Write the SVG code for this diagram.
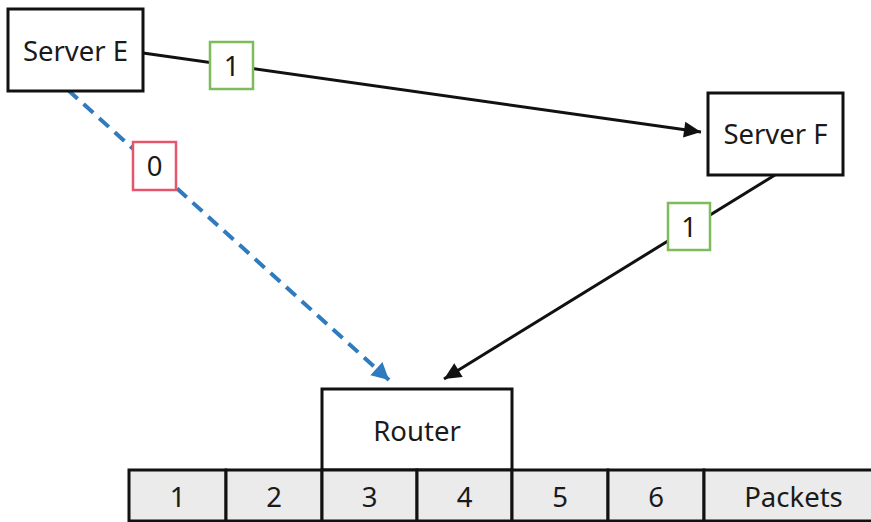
<svg xmlns="http://www.w3.org/2000/svg" width="871" height="522" viewBox="0 0 871 522">
<style>
text{font-family:"Noto Sans","Open Sans","DejaVu Sans",sans-serif;font-size:27.5px;fill:#1a1a1a;text-anchor:middle}
.node{fill:#fff;stroke:#111;stroke-width:3}
.cell{fill:#ebebeb;stroke:#111;stroke-width:3}
.edge{fill:none;stroke:#111;stroke-width:3}
.dash{fill:none;stroke:#2f7bbd;stroke-width:4;stroke-dasharray:13 8}
.lg{fill:#fff;stroke:#7dbb5c;stroke-width:2.5}
.lr{fill:#fff;stroke:#e5566c;stroke-width:2.5}
</style>
<defs>
<marker id="ab" markerUnits="userSpaceOnUse" markerWidth="22" markerHeight="22" viewBox="0 0 22 22" refX="20" refY="11" orient="auto">
<path d="M3,3 L20,11 L3,19 Z" fill="#111"/>
</marker>
<marker id="abl" markerUnits="userSpaceOnUse" markerWidth="22" markerHeight="22" viewBox="0 0 22 22" refX="20" refY="11" orient="auto">
<path d="M3,2 L20,11 L3,20 Z" fill="#2f7bbd"/>
</marker>
</defs>
<rect width="871" height="522" fill="#fff"/>
<g id="connectors">
<line class="edge" x1="143" y1="53" x2="701" y2="132" marker-end="url(#ab)"/>
<line class="edge" x1="775" y1="175" x2="444" y2="379" marker-end="url(#ab)"/>
<line class="dash" x1="68" y1="90" x2="389" y2="380" marker-end="url(#abl)"/>
<g id="label-e-f"><rect class="lg" x="210" y="42" width="43" height="47"/><text x="231.5" y="75.5">1</text></g>
<g id="label-e-router"><rect class="lr" x="133" y="142" width="43" height="48"/><text x="154.5" y="176">0</text></g>
<g id="label-f-router"><rect class="lg" x="668" y="203" width="42" height="47"/><text x="689" y="236.5">1</text></g>
</g>
<g id="server-e"><rect class="node" x="8" y="9" width="135" height="82"/><text x="75.5" y="61">Server E</text></g>
<g id="server-f"><rect class="node" x="708" y="93" width="135" height="82"/><text x="775.5" y="144">Server F</text></g>
<g id="router"><rect class="node" x="322" y="389" width="190" height="81"/><text x="417" y="441">Router</text></g>
<g id="packets">
<rect class="cell" x="129" y="470" width="97" height="51"/><text x="177.5" y="507">1</text>
<rect class="cell" x="226" y="470" width="96" height="51"/><text x="274" y="507">2</text>
<rect class="cell" x="322" y="470" width="95" height="51"/><text x="369.5" y="507">3</text>
<rect class="cell" x="417" y="470" width="95" height="51"/><text x="464.5" y="507">4</text>
<rect class="cell" x="512" y="470" width="96" height="51"/><text x="560" y="507">5</text>
<rect class="cell" x="608" y="470" width="96" height="51"/><text x="656" y="507">6</text>
<rect class="cell" x="704" y="470" width="180" height="51"/><text x="793.5" y="507">Packets</text>
</g>
</svg>
